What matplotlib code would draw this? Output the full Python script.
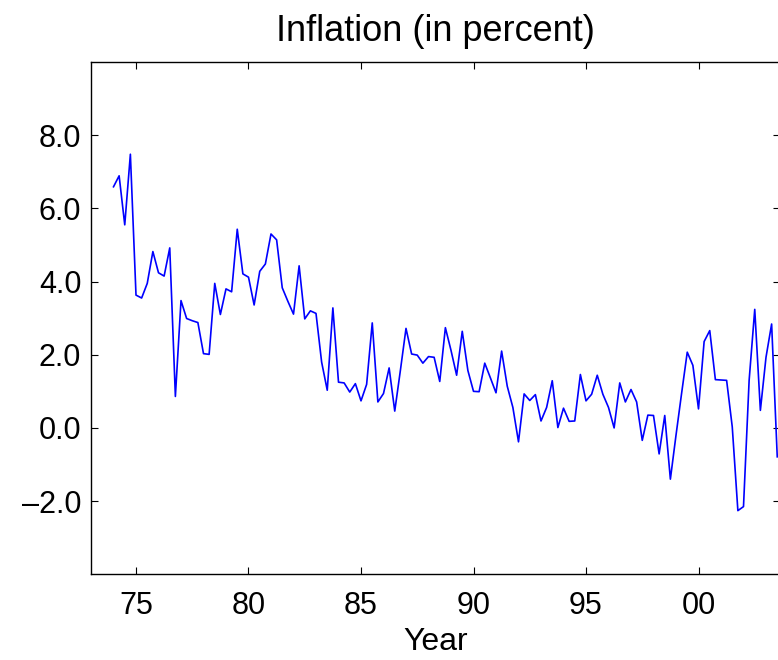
import numpy as np
import matplotlib
matplotlib.use("Agg")
import matplotlib.pyplot as plt
from matplotlib.ticker import FixedLocator, FuncFormatter

plt.rcParams['font.family'] = ['Liberation Sans', 'DejaVu Sans']

# ------------------------------------------------------------------ #
# Data: quarterly inflation (percent), 1974Q1 .. 2003Q3
# ------------------------------------------------------------------ #
start_year = 74.0
inflation = [
    6.59, 6.89, 5.55, 7.48, 3.63, 3.55, 3.95, 4.82, 4.24, 4.15,
    4.92, 0.86, 3.48, 2.99, 2.93, 2.88, 2.03, 2.01, 3.95, 3.10,
    3.80, 3.72, 5.43, 4.21, 4.12, 3.36, 4.28, 4.48, 5.30, 5.14,
    3.83, 3.46, 3.11, 4.43, 2.98, 3.20, 3.13, 1.80, 1.03, 3.28,
    1.25, 1.23, 0.98, 1.21, 0.74, 1.19, 2.87, 0.71, 0.94, 1.64,
    0.46, 1.57, 2.72, 2.02, 1.99, 1.77, 1.95, 1.93, 1.27, 2.74,
    2.12, 1.44, 2.64, 1.57, 1.00, 0.99, 1.77, 1.37, 0.96, 2.10,
    1.14, 0.56, -0.38, 0.93, 0.75, 0.91, 0.19, 0.56, 1.29, 0.01,
    0.54, 0.18, 0.19, 1.46, 0.74, 0.92, 1.44, 0.92, 0.56, 0.00,
    1.23, 0.71, 1.05, 0.71, -0.34, 0.35, 0.34, -0.71, 0.34, -1.40,
    -0.20, 0.95, 2.07, 1.71, 0.52, 2.36, 2.66, 1.32, 1.31, 1.30,
    0.03, -2.26, -2.15, 1.30, 3.24, 0.48, 1.93, 2.84, -0.79,
]
years = start_year + 0.25 * np.arange(len(inflation))

x_ticks = [75, 80, 85, 90, 95, 100]
x_tick_labels = ["75", "80", "85", "90", "95", "00"]
y_ticks = [-2, 0, 2, 4, 6, 8]

# ------------------------------------------------------------------ #
# Plot
# ------------------------------------------------------------------ #
W, H = 778, 660
fig = plt.figure(figsize=(W / 100, H / 100), dpi=100)
left, right, top, bottom = 91, 779.5, 62, 574.3
ax = fig.add_axes([left / W, 1 - bottom / H, (right - left) / W, (bottom - top) / H])

ax.plot(years, inflation, color="#0000ff", lw=1.2)

ax.set_xlim(73, 73 + (right - left) / 22.5)
ax.set_ylim(-4, 10)

ax.xaxis.set_major_locator(FixedLocator(x_ticks))
ax.set_xticklabels(x_tick_labels)
ax.yaxis.set_major_locator(FixedLocator(y_ticks))
ax.yaxis.set_major_formatter(FuncFormatter(lambda v, p: f"{v:.1f}".replace("-", "\u2013")))

ax.tick_params(direction="in", length=5, width=0.8, labelsize=22,
               top=True, right=True)
ax.tick_params(axis="x", pad=12)
ax.tick_params(axis="y", pad=7)
for sp in ax.spines.values():
    sp.set_linewidth(1.0)

ax.set_title("Inflation (in percent)", fontsize=26, pad=15)
ax.set_xlabel("Year", fontsize=23, labelpad=4)

plt.savefig("out.png", dpi=100)
plt.close()
